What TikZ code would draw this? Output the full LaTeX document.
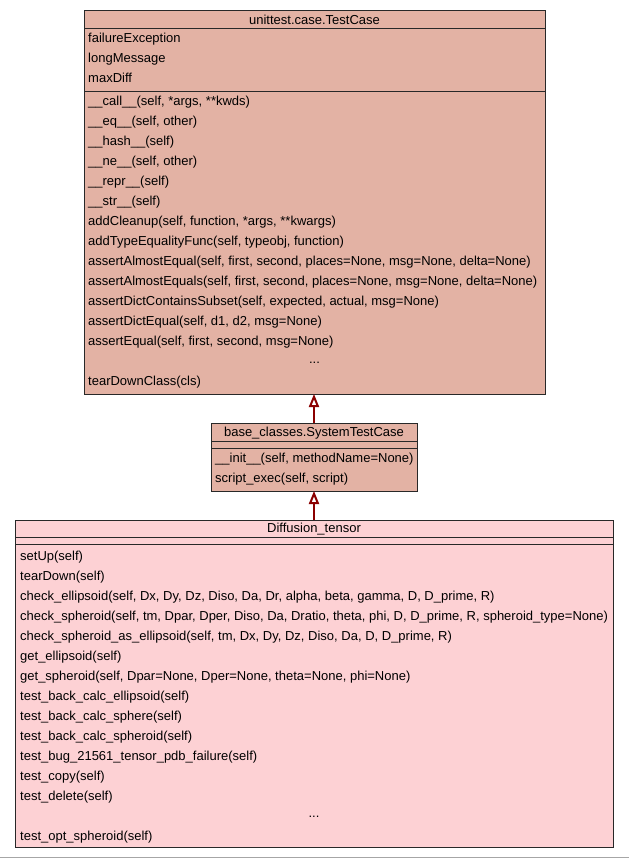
\documentclass[tikz,border=0pt]{standalone}
\usepackage{fontspec}
\setmainfont{Liberation Sans}
\usetikzlibrary{arrows.meta}
\definecolor{clsA}{RGB}{227,178,164}
\definecolor{clsB}{RGB}{253,209,212}
\definecolor{edgeC}{RGB}{139,0,0}
\definecolor{bordC}{RGB}{40,40,40}
\begin{document}
\begin{tikzpicture}[x=1pt,y=-1pt,
  box/.style={draw=bordC,line width=1pt,anchor=north west,inner sep=0pt,outer sep=0pt},
  sepl/.style={draw=bordC,line width=1pt},
  row/.style={anchor=base west,inner sep=0pt,font=\fontsize{13}{15}\selectfont},
  ttl/.style={anchor=base,inner sep=0pt,font=\fontsize{13}{15}\selectfont},
  inh/.style={draw=edgeC,line width=2pt,-{Triangle[open,length=13pt,width=10pt,line width=2pt]}}
]
\useasboundingbox (0,0) rectangle (629,859);
\fill[white] (0,0) rectangle (629,859);
\draw[gray!70,line width=1.5pt] (0,857.5) -- (629,857.5);

% ---- unittest.case.TestCase
\node[box,fill=clsA,minimum width=461pt,minimum height=383pt] (tc) at (84,11) {};
\draw[sepl] (84,29) -- (545,29);
\draw[sepl] (84,91) -- (545,91);
\node[ttl] (tct) at (314.5,24.6) {unittest.case.TestCase};
\node[row] (tca1) at (88,42.6) {failureException};
\node[row] (tca2) at (88,62.6) {longMessage};
\node[row] (tca3) at (88,82.6) {maxDiff};
\foreach \t [count=\i from 0] in {
  {\_\_call\_\_(self, *args, **kwds)},
  {\_\_eq\_\_(self, other)},
  {\_\_hash\_\_(self)},
  {\_\_ne\_\_(self, other)},
  {\_\_repr\_\_(self)},
  {\_\_str\_\_(self)},
  {addCleanup(self, function, *args, **kwargs)},
  {addTypeEqualityFunc(self, typeobj, function)},
  {assertAlmostEqual(self, first, second, places=None, msg=None, delta=None)},
  {assertAlmostEquals(self, first, second, places=None, msg=None, delta=None)},
  {assertDictContainsSubset(self, expected, actual, msg=None)},
  {assertDictEqual(self, d1, d2, msg=None)},
  {assertEqual(self, first, second, msg=None)}}
  \node[row] (tcm\i) at (88,105.8+20*\i) {\t};
\node[ttl] (tcdots) at (314.5,363.5) {...};
\node[row] (tcml) at (88,385.6) {tearDownClass(cls)};

% ---- base_classes.SystemTestCase
\node[box,fill=clsA,minimum width=206pt,minimum height=68pt] (stc) at (211,423) {};
\draw[sepl] (211,441) -- (417,441);
\draw[sepl] (211,448) -- (417,448);
\node[ttl] (stct) at (314,436.4) {base\_classes.SystemTestCase};
\node[row] (stcm0) at (215,462.6) {\_\_init\_\_(self, methodName=None)};
\node[row] (stcm1) at (215,482.6) {script\_exec(self, script)};

% ---- Diffusion_tensor
\node[box,fill=clsB,minimum width=598pt,minimum height=327pt] (dt) at (15,520) {};
\draw[sepl] (15,537.5) -- (613,537.5);
\draw[sepl] (15,544.5) -- (613,544.5);
\node[ttl] (dtt) at (314,532.6) {Diffusion\_tensor};
\foreach \t [count=\i from 0] in {
  {setUp(self)},
  {tearDown(self)},
  {check\_ellipsoid(self, Dx, Dy, Dz, Diso, Da, Dr, alpha, beta, gamma, D, D\_prime, R)},
  {check\_spheroid(self, tm, Dpar, Dper, Diso, Da, Dratio, theta, phi, D, D\_prime, R, spheroid\_type=None)},
  {check\_spheroid\_as\_ellipsoid(self, tm, Dx, Dy, Dz, Diso, Da, D, D\_prime, R)},
  {get\_ellipsoid(self)},
  {get\_spheroid(self, Dpar=None, Dper=None, theta=None, phi=None)},
  {test\_back\_calc\_ellipsoid(self)},
  {test\_back\_calc\_sphere(self)},
  {test\_back\_calc\_spheroid(self)},
  {test\_bug\_21561\_tensor\_pdb\_failure(self)},
  {test\_copy(self)},
  {test\_delete(self)}}
  \node[row] (dtm\i) at (20,560+20*\i) {\t};
\node[ttl] (dtdots) at (314,817.5) {...};
\node[row] (dtml) at (20,840) {test\_opt\_spheroid(self)};

% ---- inheritance
\draw[inh] (stc.north) -- (stc.north |- tc.south);
\draw[inh] (dt.north) -- (dt.north |- stc.south);
\end{tikzpicture}
\end{document}
